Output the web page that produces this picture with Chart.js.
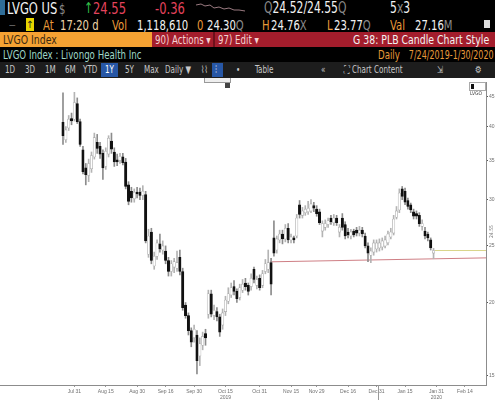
<!DOCTYPE html>
<html>
<head>
<meta charset="utf-8">
<script src="https://cdn.jsdelivr.net/npm/chart.js@4.4.0/dist/chart.umd.min.js"></script>
<style>
  body { margin: 0; width: 495px; height: 400px; overflow: hidden; background: #fff; position: relative;
         font-family: "Liberation Sans Narrow", "DejaVu Sans Condensed", "Roboto", sans-serif; }
  .bar { position: absolute; left: 0; width: 495px; }
  .t { position: absolute; white-space: nowrap; line-height: 1; transform: scaleX(0.8); transform-origin: 0 0; }
  .or { color: #e99a3a; }
  .wh { color: #f2f2f2; }
  .gr { color: #8a8a8a; }
  .rd { color: #e4435c; }
  .tb { color: #c8c8c8; font-size: 10px; top: 65px; }
  #wrap { position: absolute; left: 0; top: 78px; width: 495px; height: 322px; }
</style>
</head>
<body>
<!-- row 1 -->
<div class="bar" style="top:0;height:17px;background:#000"></div>
<div style="position:absolute;left:0;top:0;width:5px;height:15px;background:#2f6d98"></div>
<span class="t wh" style="left:7px;top:1px;font-size:16px">LVGO US</span>
<span class="t gr" style="left:59px;top:2px;font-size:14px">$</span>
<span class="t" style="left:84px;top:1px;font-size:15px;color:#33c24a">↑</span>
<span class="t rd" style="left:93px;top:1px;font-size:16px">24.55</span>
<span class="t rd" style="left:155px;top:1px;font-size:16px">-0.36</span>
<svg style="position:absolute;left:196px;top:2px" width="50" height="12">
  <polyline points="0,3 5,2 9,4 14,3 18,6 23,5 28,7 33,6 38,8 43,8 49,9" fill="none" stroke="#9a7a80" stroke-width="1"/>
</svg>
<span class="t wh" style="left:264px;top:1px;font-size:15px"><span class="gr">Q</span>24.52/24.55<span class="gr">Q</span></span>
<span class="t wh" style="left:390px;top:1px;font-size:15px">5<span class="gr">x</span>3</span>
<!-- row 2 -->
<div class="bar" style="top:17px;height:15px;background:#000"></div>
<span class="t gr" style="left:9px;top:21px;font-size:9px">—</span>
<div style="position:absolute;left:26px;top:18px;width:8px;height:13px;background:#e6d400;color:#222;font-size:10px;text-align:center;line-height:13px">↑</div>
<span class="t or" style="left:43px;top:18px;font-size:14px">At</span>
<span class="t" style="left:60px;top:18px;font-size:14px;color:#ecd2a8">17:20 d</span>
<span class="t or" style="left:112px;top:18px;font-size:14px">Vol</span>
<span class="t wh" style="left:137px;top:18px;font-size:14px">1,118,610</span>
<span class="t or" style="left:197px;top:18px;font-size:14px">0</span>
<span class="t wh" style="left:207px;top:18px;font-size:14px">24.30<span class="gr">Q</span></span>
<span class="t or" style="left:262px;top:18px;font-size:14px">H</span>
<span class="t wh" style="left:271px;top:18px;font-size:14px">24.76<span class="gr">X</span></span>
<span class="t or" style="left:327px;top:18px;font-size:14px">L</span>
<span class="t wh" style="left:334px;top:18px;font-size:14px">23.77<span class="gr">Q</span></span>
<span class="t or" style="left:390px;top:18px;font-size:14px">Val</span>
<span class="t wh" style="left:415px;top:18px;font-size:14px">27.16<span class="gr">M</span></span>
<div style="position:absolute;left:484px;top:20px;width:6px;height:8px;background:#ddd"></div>
<!-- row 3 -->
<div class="bar" style="top:32px;height:15px;background:#a31d2c"></div>
<div style="position:absolute;left:0;top:32px;width:152px;height:15px;background:#f5a233"></div>
<span class="t" style="left:3px;top:33px;font-size:13px;color:#3b2a12">LVGO Index</span>
<span class="t" style="left:155px;top:34px;font-size:12px;color:#f3d2d2">90) Actions ▾</span>
<div style="position:absolute;left:213px;top:32px;width:2px;height:15px;background:#6d101b"></div>
<span class="t" style="left:218px;top:34px;font-size:12px;color:#f3d2d2">97) Edit ▾</span>
<span class="t wh" style="right:6px;top:33px;font-size:13px;transform-origin:100% 0">G 38: PLB Candle Chart Style</span>
<!-- row 4 -->
<div class="bar" style="top:47px;height:15px;background:#000"></div>
<span class="t" style="left:3px;top:49px;font-size:12px;color:#9ed6c6">LVGO Index : Livongo Health Inc</span>
<span class="t or" style="left:378px;top:49px;font-size:12px">Daily</span>
<span class="t or" style="right:1px;top:49px;font-size:12px;transform:scaleX(0.74);transform-origin:100% 0">7/24/2019-1/30/2020</span>
<!-- row 5 toolbar -->
<div class="bar" style="top:62px;height:16px;background:#1d1d1d"></div>
<div style="position:absolute;left:101px;top:63px;width:17px;height:14px;background:#2757a6"></div>
<div style="position:absolute;left:212px;top:63px;width:11px;height:14px;background:#2757a6"></div>
<span class="t tb" style="left:5px">1D</span>
<span class="t tb" style="left:25px">3D</span>
<span class="t tb" style="left:45px">1M</span>
<span class="t tb" style="left:65px">6M</span>
<span class="t tb" style="left:83px">YTD</span>
<span class="t tb" style="left:105px;color:#fff">1Y</span>
<span class="t tb" style="left:125px">5Y</span>
<span class="t tb" style="left:144px">Max</span>
<span class="t tb" style="left:165px">Daily ▼</span>
<span class="t tb" style="left:201px">⌇⌇</span>
<span class="t tb" style="left:215px;color:#fff">⫶</span>
<span class="t tb" style="left:236px">•</span>
<span class="t tb" style="left:255px">Table</span>
<span class="t tb" style="left:321px">«</span>
<span class="t tb" style="left:344px">⛶ Chart Content</span>
<span class="t tb" style="left:437px">⇲</span>
<span class="t tb" style="left:475px">⚙</span>

<div id="wrap"><canvas id="c" width="495" height="322"></canvas></div>

<!-- overlays on the chart -->
<div style="position:absolute;left:204px;top:78px;width:25px;height:4px;border:1px solid #999;border-top:none;background:#eee"></div>
<div style="position:absolute;left:225px;top:83px;width:5px;height:5px;background:#444"></div>
<div style="position:absolute;left:469px;top:82px;width:15px;height:7px;border:1px solid #aaa;background:#fff;font-size:5px;line-height:7px;color:#444">
  <span style="display:inline-block;width:3px;height:5px;background:#111;margin:1px 1px 0 1px;vertical-align:top"></span>LVGO
</div>
<span style="position:absolute;left:488px;top:238px;font-size:5px;color:#777;transform:rotate(-90deg);transform-origin:left top;white-space:nowrap">24.55</span>

<script>
// daily candles, trading days 7/25/2019 .. 1/30/2020
const opens = [40.7,38.0,39.8,41.3,41.2,43.8,40.8,36.5,34.0,33.0,
  33.9,35.5,37.6,37.0,36.0,34.2,35.9,37.8,36.2,35.1,
  35.0,35.5,34.8,31.8,31.0,30.1,30.9,30.9,30.5,30.6,
  24.2,26.4,23.1,24.0,25.2,24.6,24.5,23.6,22.6,23.0,
  22.9,23.9,22.6,19.8,19.0,17.9,17.4,17.6,16.2,16.9,
  17.7,19.1,20.7,19.0,19.3,18.9,18.3,19.3,20.1,20.6,
  21.3,20.9,20.4,21.0,21.6,21.4,21.3,22.8,21.4,22.0,
  21.4,22.6,22.8,23.4,25.8,24.6,25.6,26.2,25.7,26.8,
  25.6,25.8,26.0,29.4,28.2,28.5,28.6,28.7,29.3,28.9,
  28.6,26.5,26.9,27.2,27.9,27.4,27.9,26.4,27.9,27.2,
  26.4,26.0,26.5,26.6,26.3,26.6,26.0,25.0,24.1,24.4,
  24.7,24.8,24.9,25.0,25.3,25.9,26.3,28.0,28.8,31.3,
  31.0,29.9,29.4,28.6,28.4,28.2,27.0,26.5,26.2,25.6,
  24.30];
const highs = [45.7,40.0,41.8,42.2,45.8,44.8,41.2,37.0,34.6,35.2,
  36.2,39.0,38.8,37.6,36.5,36.8,38.6,39.0,36.8,35.9,
  36.0,36.0,35.3,32.2,31.5,31.3,31.5,31.4,31.7,31.0,
  26.7,26.8,24.4,25.6,26.2,25.5,25.0,23.9,23.6,23.8,
  24.5,24.6,22.9,20.0,19.2,18.1,18.3,17.9,17.4,17.8,
  18.0,21.0,21.0,19.8,19.6,19.1,19.5,20.5,21.2,21.6,
  21.8,21.1,21.5,21.9,22.0,21.6,22.4,23.0,22.2,22.3,
  22.7,23.7,24.6,23.8,27.6,26.0,26.6,26.6,27.2,27.3,
  26.2,26.0,28.3,29.9,29.1,29.3,29.8,30.0,29.7,29.3,
  28.9,27.6,27.7,27.9,28.2,28.3,28.2,27.2,28.4,27.5,
  26.8,26.7,26.7,26.9,27.0,26.9,26.3,25.3,24.8,25.6,
  25.6,25.7,25.8,26.0,26.5,26.8,28.2,29.2,31.3,31.6,
  31.4,30.2,29.6,28.9,28.7,28.5,27.7,26.9,26.4,25.8,
  24.76];
const lows = [37.3,37.6,39.4,40.3,40.9,40.5,37.0,33.2,31.8,32.2,
  33.4,35.2,36.0,35.3,32.5,33.8,35.5,36.0,34.2,34.3,
  34.6,34.4,31.3,29.4,29.7,29.7,30.2,30.0,30.0,25.3,
  23.9,23.3,22.8,23.7,24.4,24.2,23.3,22.2,22.2,22.5,
  22.6,22.3,19.4,18.8,17.6,16.8,17.1,15.1,15.6,16.6,
  16.9,18.8,18.9,18.7,18.6,17.5,18.0,19.0,19.9,20.4,
  20.6,20.0,20.2,20.8,21.0,20.6,21.0,21.6,21.1,21.0,
  21.2,22.4,22.5,20.6,24.0,24.3,25.3,25.2,25.4,25.3,
  25.3,25.3,25.8,27.9,27.9,28.2,28.3,28.5,28.6,28.1,
  27.2,25.9,26.6,26.9,27.2,27.1,27.1,25.9,26.6,25.7,
  25.8,25.7,25.9,26.0,26.0,25.9,24.8,23.5,23.4,24.1,
  24.4,24.5,24.6,24.8,25.1,25.7,26.1,27.8,28.5,30.0,
  29.4,28.9,28.5,27.8,27.8,27.0,26.6,25.7,25.5,24.6,
  23.77];
const closes = [38.6,39.5,41.2,40.9,44.0,40.8,37.3,33.5,33.1,34.6,
  35.7,38.3,36.7,35.9,34.0,36.3,38.2,36.6,34.8,34.8,
  35.6,34.7,31.6,29.8,30.2,30.9,30.7,30.5,31.0,25.5,
  26.0,23.6,24.0,25.3,24.7,25.0,23.6,22.6,23.3,23.5,
  23.4,22.6,19.6,19.0,17.9,17.1,18.0,15.9,17.0,17.5,
  17.4,20.7,19.1,19.4,18.9,17.8,19.2,20.2,20.7,21.2,
  20.9,20.3,21.2,21.5,21.3,20.9,22.0,21.9,21.9,21.2,
  22.4,23.3,23.4,21.5,24.3,25.7,26.2,25.7,26.8,25.6,
  25.9,25.6,27.9,28.3,28.7,28.9,29.0,29.5,29.0,28.4,
  27.4,27.3,27.3,27.6,27.5,27.9,27.4,26.9,26.9,26.0,
  26.1,26.4,26.1,26.3,26.6,26.2,25.0,24.3,24.5,25.3,
  25.3,25.3,25.5,25.6,26.2,26.4,27.8,28.7,30.8,30.4,
  29.7,29.2,28.8,28.1,28.1,27.3,27.3,26.0,25.8,24.8,
  24.55];

// x axis is trading-day number (0 = 7/25/2019)
const xTickIdx = [4, 15, 26, 36, 46, 57, 69, 80, 89, 100, 110, 120, 131, 141];
const xTickLabels = ['Jul 31', 'Aug 15', 'Aug 30', 'Sep 16', 'Sep 30', ['Oct 15', '2019'], 'Oct 31',
  'Nov 15', 'Nov 29', 'Dec 16', 'Dec 31', 'Jan 15', ['Jan 31', '2020'], 'Feb 14'];
const yearBreakIdx = [110.5];
const yTicks = [15, 20, 25, 30, 35, 40, 45];

// trend line and last price line
const trendIdx = [72.6, 148.4];
const trendVals = [23.48, 23.85];
const lastIdx = [130.5, 148.4];
const lastVals = [24.55, 24.55];

const up = closes.map((c, i) => c >= opens[i]);

const yearBreaks = {
  id: 'yearBreaks',
  afterDraw(chart) {
    const ctx = chart.ctx, xs = chart.scales.x;
    ctx.save();
    ctx.strokeStyle = '#999';
    ctx.lineWidth = 1;
    yearBreakIdx.forEach(v => {
      const px = Math.round(xs.getPixelForValue(v)) + 0.5;
      ctx.beginPath();
      ctx.moveTo(px, chart.chartArea.bottom);
      ctx.lineTo(px, chart.height);
      ctx.stroke();
    });
    ctx.restore();
  }
};

new Chart(document.getElementById('c'), {
  type: 'bar',
  data: {
    datasets: [
      {
        label: 'trend',
        type: 'line',
        data: trendIdx.map((x, i) => ({ x: x, y: trendVals[i] })),
        borderColor: '#cf7f85',
        borderWidth: 1,
        pointRadius: 0,
        order: 3
      },
      {
        label: 'last',
        type: 'line',
        data: lastIdx.map((x, i) => ({ x: x, y: lastVals[i] })),
        borderColor: '#d9d58a',
        borderWidth: 1,
        pointRadius: 0,
        order: 3
      },
      {
        label: 'wick',
        data: lows.map((l, i) => ({ x: i, y: [l, highs[i]] })),
        backgroundColor: up.map(u => u ? '#b4b4b4' : '#8c8c8c'),
        barThickness: 1,
        grouped: false,
        order: 2
      },
      {
        label: 'body',
        data: opens.map((o, i) => ({ x: i, y: [o, closes[i]] })),
        backgroundColor: up.map(u => u ? '#ffffff' : '#111111'),
        borderColor: up.map(u => u ? '#a8a8a8' : '#111111'),
        borderWidth: 0.6,
        borderSkipped: false,
        barThickness: 2.4,
        grouped: false,
        order: 1
      }
    ]
  },
  options: {
    responsive: false,
    animation: false,
    layout: { padding: { top: 2, left: 0, right: 0, bottom: 0 } },
    plugins: { legend: { display: false }, tooltip: { enabled: false } },
    scales: {
      x: {
        type: 'linear',
        offset: false,
        min: -22.1,
        max: 148.4,
        afterBuildTicks: s => { s.ticks = xTickIdx.map(v => ({ value: v })); },
        afterFit: s => { s.height = 15; },
        ticks: {
          autoSkip: false,
          maxRotation: 0,
          padding: 1,
          color: '#6f6f6f',
          font: { size: 5, lineHeight: 1.3 },
          callback: v => xTickLabels[xTickIdx.indexOf(v)]
        },
        grid: { drawOnChartArea: false, offset: false, tickLength: 2, color: '#999' },
        border: { color: '#8c8c8c' }
      },
      y: {
        type: 'logarithmic',
        position: 'right',
        min: 14.45,
        max: 47.7,
        afterBuildTicks: s => { s.ticks = yTicks.map(v => ({ value: v })); },
        afterFit: s => { s.width = 9; },
        ticks: {
          padding: 1,
          color: '#6f6f6f',
          font: { size: 5 },
          callback: v => String(v)
        },
        grid: { drawOnChartArea: false, tickLength: 2, color: '#555' },
        border: { color: '#8c8c8c' }
      }
    }
  },
  plugins: [yearBreaks]
});
</script>
</body>
</html>
